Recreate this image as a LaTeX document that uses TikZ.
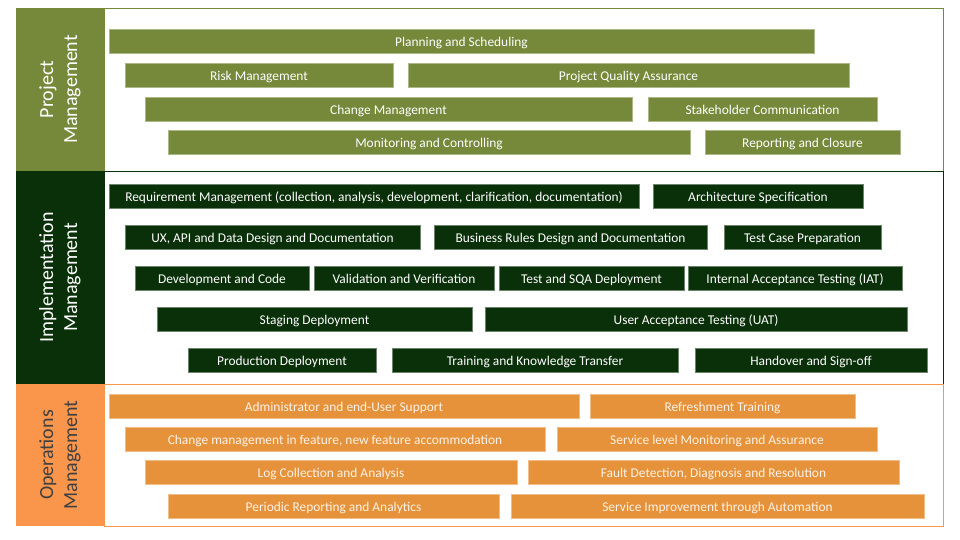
\documentclass[tikz,border=0pt]{standalone}
\usepackage{fontspec}
\setmainfont{Carlito}
\usetikzlibrary{positioning}
\definecolor{pmgreen}{RGB}{118,136,58}
\definecolor{imgreen}{RGB}{10,48,10}
\definecolor{omorange}{RGB}{230,146,58}
\definecolor{omside}{RGB}{249,150,76}
\definecolor{omtext}{RGB}{64,64,64}

\begin{document}
\begin{tikzpicture}[
  x=1pt, y=-1pt,
  every node/.style={font=\fontsize{13.4}{15}\selectfont},
  bar/.style = {rectangle,inner sep=0pt,minimum height=24,text height=11.5pt,text depth=0.5pt,
                line width=0.8pt,text=white},
  pmbar/.style = {bar,fill=pmgreen,draw=pmgreen!60!white},
  imbar/.style = {bar,fill=imgreen,draw=imgreen!60!white},
  ombar/.style = {bar,fill=omorange,draw=omorange!60!white,text=white!88!omorange},
  side/.style = {rectangle,inner sep=0pt,rotate=90,minimum height=88,align=center,
                 font=\fontsize{20}{24}\selectfont}
  ]
	\useasboundingbox (0,0) rectangle (960,540);

	% section frames
	\draw[pmgreen,line width=0.8pt,fill=white] (104,8) rectangle (943,171);
	\draw[imgreen,line width=0.8pt,fill=white] (104,171) rectangle (943,384);
	\draw[omside,line width=0.8pt,fill=white] (104,384) rectangle (943,526);

	\node[side,fill=pmgreen,text=white,minimum width=163] (pm) at (60,89.5) {Project\\Management};
	\node[side,fill=imgreen,text=white,minimum width=213] (im) at (60,277.5) {Implementation\\Management};
	\node[side,fill=omside,text=omtext,minimum width=142] (om) at (60,455) {Operations\\Management};

	% project management
	\node[pmbar,minimum width=705] (plan) at (461.5,41) {Planning and Scheduling};
	\node[pmbar,minimum width=268] (risk) at (259,75) {Risk Management};
	\node[pmbar,minimum width=441] (pqa) at (628.5,75) {Project Quality Assurance};
	\node[pmbar,minimum width=487] (change) at (388.5,109) {Change Management};
	\node[pmbar,minimum width=229] (stake) at (762.5,109) {Stakeholder Communication};
	\node[pmbar,minimum width=522] (monitor) at (429,142) {Monitoring and Controlling};
	\node[pmbar,minimum width=195] (report) at (802.5,142) {Reporting and Closure};

	% implementation management
	\node[imbar,minimum width=530] (req) at (374,196) {Requirement Management (collection, analysis, development, clarification, documentation)};
	\node[imbar,minimum width=210] (arch) at (758,196) {Architecture Specification};
	\node[imbar,minimum width=295] (ux) at (272.5,237) {UX, API and Data Design and Documentation};
	\node[imbar,minimum width=273] (rules) at (570.5,237) {Business Rules Design and Documentation};
	\node[imbar,minimum width=157] (tcase) at (802.5,237) {Test Case Preparation};
	\node[imbar,minimum width=174] (dev) at (222,278) {Development and Code};
	\node[imbar,minimum width=180] (valid) at (404,278) {Validation and Verification};
	\node[imbar,minimum width=185] (sqa) at (591.5,278) {Test and SQA Deployment};
	\node[imbar,minimum width=214] (iat) at (795,278) {Internal Acceptance Testing (IAT)};
	\node[imbar,minimum width=315] (staging) at (314.5,319) {Staging Deployment};
	\node[imbar,minimum width=422] (uat) at (696,319) {User Acceptance Testing (UAT)};
	\node[imbar,minimum width=188] (prod) at (282,360) {Production Deployment};
	\node[imbar,minimum width=286] (train) at (535,360) {Training and Knowledge Transfer};
	\node[imbar,minimum width=232] (hand) at (811,360) {Handover and Sign-off};

	% operations management
	\node[ombar,minimum width=470] (admin) at (344,406) {Administrator and end-User Support};
	\node[ombar,minimum width=265] (refresh) at (722.5,406) {Refreshment Training};
	\node[ombar,minimum width=420] (feature) at (335,439) {Change management in feature, new feature accommodation};
	\node[ombar,minimum width=320] (slevel) at (717,439) {Service level Monitoring and Assurance};
	\node[ombar,minimum width=372] (logs) at (331,472) {Log Collection and Analysis};
	\node[ombar,minimum width=371] (fault) at (713.5,472) {Fault Detection, Diagnosis and Resolution};
	\node[ombar,minimum width=331] (periodic) at (333.5,506) {Periodic Reporting and Analytics};
	\node[ombar,minimum width=413] (improve) at (717.5,506) {Service Improvement through Automation};

\end{tikzpicture}
\end{document}
